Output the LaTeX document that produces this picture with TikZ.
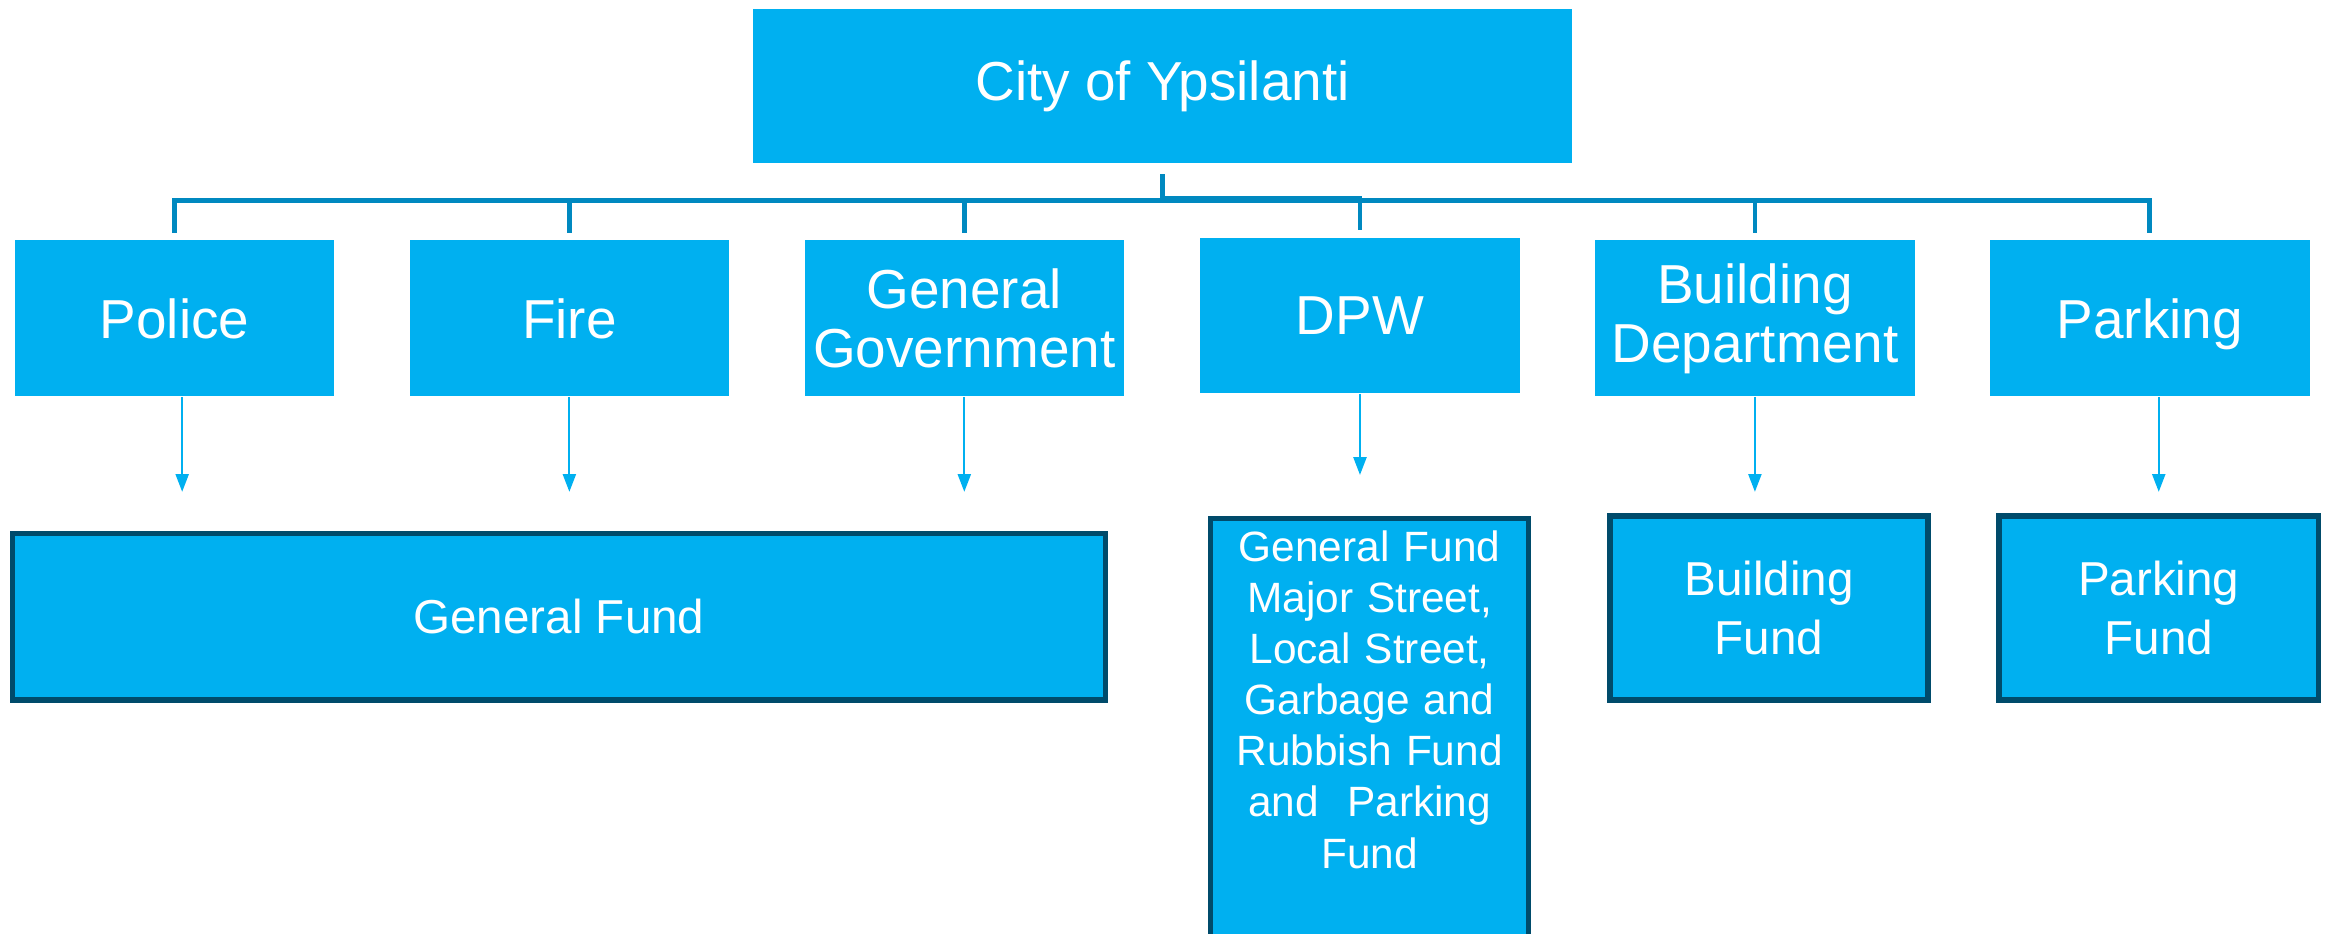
\documentclass[tikz,border=0pt]{standalone}
\usepackage{fontspec}
\setmainfont{Liberation Sans}
\usetikzlibrary{arrows.meta}
\definecolor{boxblue}{RGB}{0,176,240}
\definecolor{busblue}{RGB}{0,137,192}
\definecolor{rimblue}{RGB}{0,75,107}

\begin{document}
\begin{tikzpicture}[x=0.025cm,y=-0.025cm,
    unit/.style={fill=boxblue,text=white,inner sep=0pt,align=center,
            font=\fontsize{26.3}{28.4}\selectfont},
    topunit/.style={unit,minimum width=13.8cm,minimum height=2.6cm},
    dept/.style={unit,minimum width=5.375cm,minimum height=2.625cm},
    fund/.style={unit,draw=rimblue,line width=0.09cm,
            font=\fontsize{22.8}{28.4}\selectfont},
    bus/.style={busblue,line width=0.08cm,shorten <=0.175cm,shorten >=0.125cm},
    feed/.style={boxblue,line width=1pt,-{Triangle[length=0.3cm,width=0.22cm]}}]
    \useasboundingbox (0,0) rectangle (1568,629);
    \node[topunit] (city) at (783,58) {City of Ypsilanti};
    \node[dept] (police) at (117.5,214.5) {Police};
    \node[dept] (fire) at (383.5,214.5) {Fire};
    \node[dept] (gengov) at (649.5,214.5) {General\\Government};
    \node[dept] (dpw) at (916,212.5) {DPW};
    \node[dept] (bldgdept) at (1182,214.5) {Building\\Department};
    \node[dept,text depth=0pt] (parking) at (1448,214.5) {Parking};
    \draw[bus] (city.south) -- ++(0,25) -| (police.north);
    \draw[bus] (city.south) -- ++(0,25) -| (fire.north);
    \draw[bus] (city.south) -- ++(0,25) -| (gengov.north);
    \draw[bus] (city.south) -- ++(0,23) -| (dpw.north);
    \draw[bus] (city.south) -- ++(0,25) -| (bldgdept.north);
    \draw[bus] (city.south) -- ++(0,25) -| (parking.north);
    \node[fund,minimum width=18.4cm,minimum height=2.8cm] (genfund) at (376.5,415.5) {General Fund};
    \node[fund,anchor=north,minimum width=5.35cm,text width=5.35cm,inner ysep=0.2cm,
        text depth=6.6cm,font=\fontsize{20.3}{24.5}\selectfont] (dpwfund) at (922.5,347.5)
        {General Fund\\Major Street,\\Local Street,\\Garbage and\\Rubbish Fund\\and\ \ Parking\\Fund};
    \node[fund,minimum width=5.35cm,minimum height=3.1cm] (bldgfund) at (1191.5,409.5) {Building\\Fund};
    \node[fund,minimum width=5.375cm,minimum height=3.1cm] (parkfund) at (1454,409.5) {Parking\\Fund};
    \draw[feed,shorten >=0.66cm] ([xshift=0.13cm]police.south) -- ([xshift=0.13cm]police.south |- genfund.north);
    \draw[feed,shorten >=0.66cm] (fire.south) -- (fire.south |- genfund.north);
    \draw[feed,shorten >=0.66cm] (gengov.south) -- (gengov.south |- genfund.north);
    \draw[feed,shorten >=0.69cm] (dpw.south) -- (dpw.south |- dpwfund.north);
    \draw[feed,shorten >=0.36cm] (bldgdept.south) -- (bldgdept.south |- bldgfund.north);
    \draw[feed,shorten >=0.36cm] (parkfund.north |- parking.south) -- (parkfund.north);
\end{tikzpicture}
\end{document}
